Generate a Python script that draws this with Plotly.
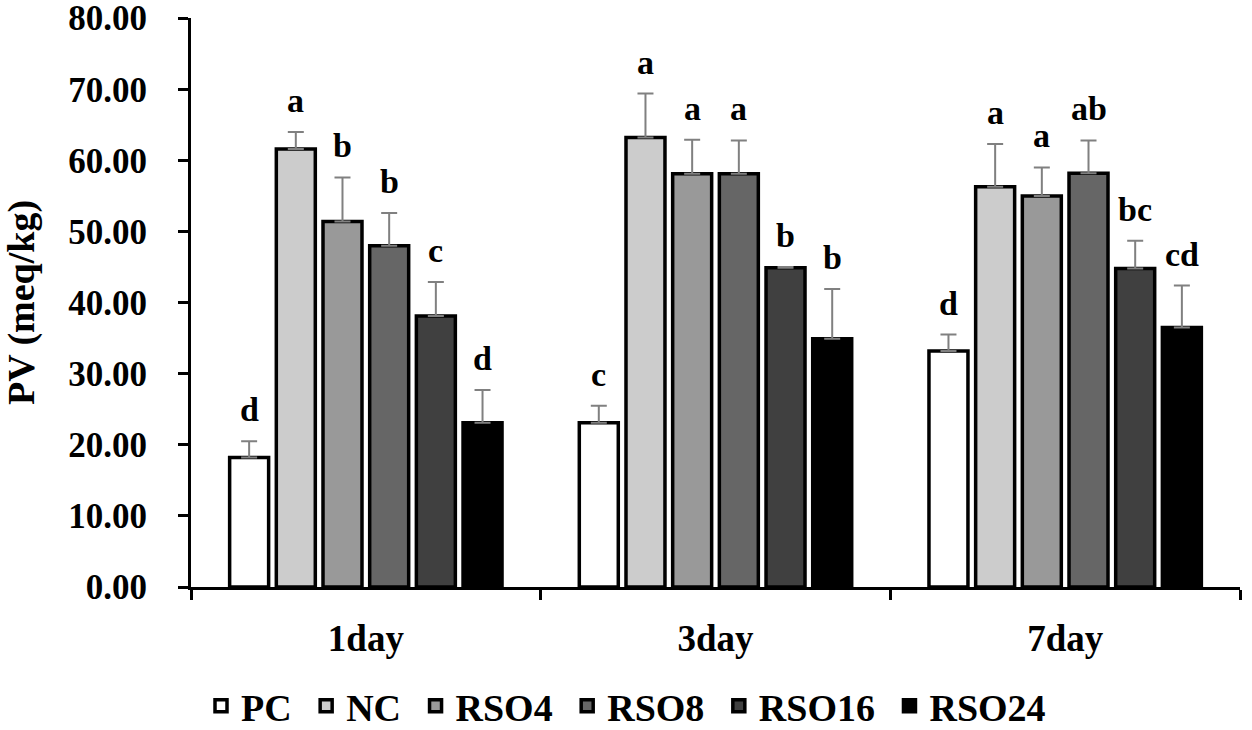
import plotly.graph_objects as go

days = ["1day", "3day", "7day"]
series = ["PC", "NC", "RSO4", "RSO8", "RSO16", "RSO24"]

pc = [18.2, 23.1, 33.2]
nc = [61.6, 63.2, 56.3]
rso4 = [51.4, 58.1, 55.0]
rso8 = [48.0, 58.1, 58.2]
rso16 = [38.1, 44.9, 44.8]
rso24 = [23.1, 34.9, 36.5]

pc_err = [2.3, 2.4, 2.3]
nc_err = [2.4, 6.2, 6.0]
rso4_err = [6.2, 4.8, 4.0]
rso8_err = [4.6, 4.7, 4.6]
rso16_err = [4.8, 0.1, 3.9]
rso24_err = [4.6, 7.0, 5.9]

pc_let = ["d", "c", "d"]
nc_let = ["a", "a", "a"]
rso4_let = ["b", "a", "a"]
rso8_let = ["b", "a", "ab"]
rso16_let = ["c", "b", "bc"]
rso24_let = ["d", "b", "cd"]

values = [pc, nc, rso4, rso8, rso16, rso24]
errors = [pc_err, nc_err, rso4_err, rso8_err, rso16_err, rso24_err]
letters = [pc_let, nc_let, rso4_let, rso8_let, rso16_let, rso24_let]
colors = ["#ffffff", "#cccccc", "#999999", "#666666", "#404040", "#000000"]

FONT = "Liberation Serif"
pitch = 0.1335
bw = 0.1115
n = len(series)

fig = go.Figure()
annotations = []
for j, name in enumerate(series):
    xs = [i + (j - (n - 1) / 2) * pitch for i in range(len(days))]
    fig.add_trace(go.Bar(
        x=xs, y=values[j], width=bw, name=name + "&nbsp;",
        marker=dict(color=colors[j], line=dict(color="black", width=3.5)),
        error_y=dict(type="data", array=errors[j], arrayminus=[0] * len(days),
                     symmetric=False, color="#808080", thickness=2, width=8),
    ))
    for i in range(len(days)):
        annotations.append(dict(
            x=xs[i], y=values[j][i] + errors[j][i], xref="x", yref="y",
            text="<b>%s</b>" % letters[j][i], showarrow=False,
            yanchor="bottom", yshift=11,
            font=dict(family=FONT, size=34, color="black"),
        ))

fig.update_layout(
    width=1252, height=730,
    margin=dict(l=191, r=12, t=18, b=143, autoexpand=False),
    paper_bgcolor="white", plot_bgcolor="white",
    barmode="overlay",
    font=dict(family=FONT, size=34, color="black"),
    annotations=annotations,
    showlegend=True,
    legend=dict(orientation="h", xref="container", yref="container",
                x=631 / 1252, y=1 - 706 / 730, xanchor="center", yanchor="middle",
                font=dict(family=FONT, size=38, color="black", weight="bold"),
                itemwidth=30, tracegroupgap=0),
)
fig.update_xaxes(
    range=[-0.5, 2.5], tickvals=[0, 1, 2], ticktext=days, automargin=False,
    showline=True, linecolor="black", linewidth=3, ticks="",
    showgrid=False, zeroline=False, ticklabelstandoff=17,
    tickfont=dict(family=FONT, size=37, color="black", weight="bold"),
    minor=dict(tick0=-0.5, dtick=1, ticks="outside", ticklen=10,
               tickwidth=3, tickcolor="black", showgrid=False),
)
fig.update_yaxes(
    range=[0, 80.02], tickvals=list(range(0, 81, 10)), tickformat=".2f",
    automargin=False, ticklabeloverflow="allow",
    showline=True, linecolor="black", linewidth=3, ticks="outside",
    ticklen=10, tickwidth=3, tickcolor="black", ticklabelstandoff=24,
    showgrid=False, zeroline=False,
    tickfont=dict(family=FONT, size=35, color="black", weight="bold"),
    title=dict(text="<b>PV (meq/kg)</b>", standoff=24,
               font=dict(family=FONT, size=38, color="black")),
)

fig.write_html("out.html", config={"displayModeBar": False},
               post_script="document.body.style.margin='0px';")
